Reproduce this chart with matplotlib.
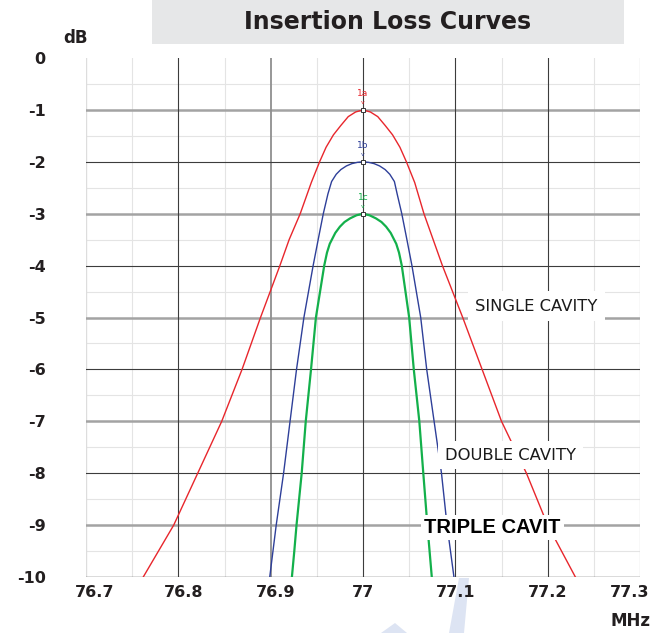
import matplotlib
matplotlib.use("Agg")
import matplotlib.pyplot as plt
from matplotlib.patches import Rectangle, Polygon
from matplotlib.transforms import ScaledTranslation

# ---- data ----
single_f = [76.762, 76.795, 76.821, 76.847, 76.869, 76.889, 76.910, 76.920, 76.932, 76.944,
            76.953, 76.960, 76.968, 76.976, 76.984, 76.992, 77.000, 77.008, 77.016, 77.024,
            77.032, 77.040, 77.047, 77.056, 77.066, 77.076, 77.086, 77.108, 77.129, 77.150,
            77.177, 77.200, 77.230]
single_db = [-10, -9, -8, -7, -6, -5, -4, -3.5, -3, -2.4,
             -2, -1.72, -1.48, -1.3, -1.13, -1.04, -1.0, -1.04, -1.13, -1.3,
             -1.48, -1.72, -2, -2.4, -3, -3.5, -4, -5, -6, -7,
             -8, -9, -10]

double_f = [76.899, 76.906, 76.914, 76.921, 76.928, 76.936, 76.946, 76.952, 76.957, 76.962,
            76.966, 76.971, 76.976, 76.982, 76.988, 76.994, 77.000, 77.006, 77.012, 77.018,
            77.024, 77.029, 77.034, 77.037, 77.042, 77.047, 77.053, 77.0625, 77.069, 77.077,
            77.085, 77.091, 77.0985]
double_db = [-10, -9, -8, -7, -6, -5, -4, -3.45, -3, -2.62,
             -2.38, -2.24, -2.15, -2.08, -2.035, -2.01, -2.0, -2.01, -2.035, -2.08,
             -2.15, -2.24, -2.38, -2.62, -3, -3.45, -4, -5, -6, -7,
             -8, -9, -10]

triple_f = [76.923, 76.9256, 76.928, 76.9336, 76.938, 76.9437, 76.949, 76.9535, 76.958, 76.961,
            76.964, 76.970, 76.975, 76.980, 76.986, 76.993, 77.000, 77.007, 77.014, 77.020,
            77.025, 77.030, 77.036, 77.039, 77.042, 77.046, 77.050, 77.055, 77.061, 77.0653,
            77.0697, 77.0745]
triple_db = [-10, -9.5, -9, -8, -7, -6, -5, -4.5, -4, -3.75,
             -3.58, -3.37, -3.25, -3.16, -3.09, -3.03, -3.0, -3.03, -3.09, -3.16,
             -3.25, -3.37, -3.58, -3.75, -4, -4.5, -5, -6, -7, -8,
             -9, -10]

x_ticks = [76.7, 76.8, 76.9, 77.0, 77.1, 77.2, 77.3]
x_labels = ["76.7", "76.8", "76.9", "77", "77.1", "77.2", "77.3"]
y_ticks = [0, -1, -2, -3, -4, -5, -6, -7, -8, -9, -10]
y_labels = ["0", "-1", "-2", "-3", "-4", "-5", "-6", "-7", "-8", "-9", "-10"]

peak_f = [77.0, 77.0, 77.0]
peak_db = [-1.0, -2.0, -3.0]
peak_names = ["1a", "1b", "1c"]

curve_labels = ["SINGLE CAVITY", "DOUBLE CAVITY", "TRIPLE CAVIT"]
label_pos_f = [77.1213, 77.0888, 77.0665]
label_pos_db = [-4.78, -7.65, -9.04]

title = "Insertion Loss Curves"

RED = "#e8262c"
BLUE = "#2e3f99"
GREEN = "#13b04b"
TXT = "#231f20"

W, H = 668, 633
fig = plt.figure(figsize=(W / 100, H / 100), dpi=100)
fig.patch.set_facecolor("white")

def fx(px):
    return px / W

def fy(py):
    return 1 - py / H

# watermark fragments (light blue)
wm = "#dde4f3"
fig.add_artist(Polygon([(fx(459), fy(578)), (fx(469), fy(578)), (fx(464), fy(633)), (fx(449), fy(633))],
                       closed=True, facecolor=wm, edgecolor="none", transform=fig.transFigure, zorder=0))
fig.add_artist(Polygon([(fx(381), fy(633)), (fx(395), fy(623)), (fx(407), fy(633))],
                       closed=True, facecolor=wm, edgecolor="none", transform=fig.transFigure, zorder=0))

# title box
fig.add_artist(Rectangle((fx(152), fy(44)), fx(624) - fx(152), fy(0) - fy(44),
                         facecolor="#e6e7e8", edgecolor="none", transform=fig.transFigure, zorder=1))
fig.text(fx(388), fy(22), title, ha="center", va="center", fontsize=17, fontweight="bold",
         color=TXT, family="DejaVu Sans", zorder=2)

ax = fig.add_axes([fx(86), fy(577), fx(640) - fx(86), fy(58) - fy(577)])
ax.set_xlim(76.7, 77.3)
ax.set_ylim(-10, 0)
for s in ax.spines.values():
    s.set_visible(False)

# grid
for k in range(1, 20, 2):
    ax.axhline(-k / 2, color="#e4e4e4", lw=0.8, zorder=1)
for v in range(-9, 0):
    if v % 2:
        ax.axhline(v, color="#a3a3a3", lw=1.8, zorder=1.5)
    else:
        ax.axhline(v, color="#3c3c3c", lw=0.8, zorder=1.6)
ax.axhline(-10, color="#4a4a4a", lw=1.0, zorder=1.6)
for k in range(1, 12, 2):
    ax.axvline(76.7 + k * 0.05, color="#e4e4e4", lw=0.8, zorder=1)
ax.axvline(76.7, color="#dddddd", lw=1.0, zorder=1)
ax.axvline(77.3, color="#dddddd", lw=1.0, zorder=1)
for v in [76.8, 77.0, 77.1, 77.2]:
    ax.axvline(v, color="#3c3c3c", lw=0.8, zorder=1.6)
ax.axvline(76.9, color="#8f8f8f", lw=1.3, zorder=1.5)

# curves
ax.plot(single_f, single_db, color=RED, lw=1.0, zorder=3)
ax.plot(double_f, double_db, color=BLUE, lw=1.0, zorder=3)
ax.plot(triple_f, triple_db, color=GREEN, lw=1.6, zorder=3)

# peak markers
for f, d, n, c in zip(peak_f, peak_db, peak_names, [RED, BLUE, GREEN]):
    ax.plot([f], [d], marker="s", ms=3.2, mfc="white", mec="#333333", mew=0.7, zorder=4)
    ax.annotate(n, (f, d), xytext=(0, 12), textcoords="offset points", ha="center", va="center",
                fontsize=6.5, color=c, zorder=4)
    ax.annotate("v", (f, d), xytext=(0, 5.5), textcoords="offset points", ha="center", va="center",
                fontsize=4.5, color=c, zorder=4)

# curve labels
ax.text(label_pos_f[0], label_pos_db[0], curve_labels[0], ha="left", va="center", fontsize=11.8,
        color="#1a1a1a", zorder=5,
        bbox=dict(boxstyle="square,pad=0.45", facecolor="white", edgecolor="none"))
ax.text(label_pos_f[1], label_pos_db[1], curve_labels[1], ha="left", va="center", fontsize=11.8,
        color="#1a1a1a", zorder=5,
        bbox=dict(boxstyle="square,pad=0.4", facecolor="white", edgecolor="none"))
ax.text(label_pos_f[2], label_pos_db[2], curve_labels[2], ha="left", va="center", fontsize=14.5,
        fontweight="bold", family="Liberation Sans", color="black", zorder=5,
        bbox=dict(boxstyle="square,pad=0.15", facecolor="white", edgecolor="none"))

# ticks
ax.set_xticks(x_ticks)
ax.set_xticklabels(x_labels, fontsize=11.5, fontweight="bold", color=TXT)
ax.set_yticks(y_ticks)
ax.set_yticklabels(y_labels, fontsize=11.5, fontweight="bold", color=TXT)
ax.tick_params(axis="x", length=0, pad=6)
ax.tick_params(axis="y", length=0, pad=29)
xt = ax.get_xticklabels()
xt[0].set_transform(xt[0].get_transform() + ScaledTranslation(9 / 100, 0, fig.dpi_scale_trans))
xt[1].set_transform(xt[1].get_transform() + ScaledTranslation(5 / 100, 0, fig.dpi_scale_trans))
xt[2].set_transform(xt[2].get_transform() + ScaledTranslation(5 / 100, 0, fig.dpi_scale_trans))
xt[-1].set_transform(xt[-1].get_transform() + ScaledTranslation(-10 / 100, 0, fig.dpi_scale_trans))

fig.text(fx(75), fy(38), "dB", ha="center", va="center", fontsize=12, fontweight="bold", color=TXT)
fig.text(fx(630), fy(621), "MHz", ha="center", va="center", fontsize=12, fontweight="bold", color=TXT)

fig.savefig("out.png", dpi=100, facecolor="white")
